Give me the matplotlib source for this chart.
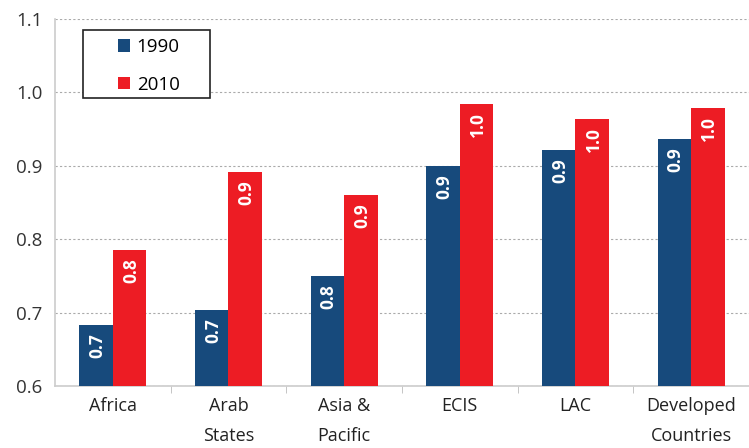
import numpy as np
import matplotlib.pyplot as plt
from matplotlib.patches import Rectangle
from matplotlib.ticker import FixedLocator

categories = ['Africa', 'Arab\nStates', 'Asia &\nPacific', 'ECIS', 'LAC', 'Developed\nCountries']
v1990 = [0.683, 0.704, 0.750, 0.900, 0.922, 0.937]
v2010 = [0.785, 0.892, 0.860, 0.984, 0.964, 0.979]
lab1990 = ['0.7', '0.7', '0.8', '0.9', '0.9', '0.9']
lab2010 = ['0.8', '0.9', '0.9', '1.0', '1.0', '1.0']

blue = '#174a7c'
red = '#ed1c24'
plt.rcParams['font.family'] = ['Open Sans', 'DejaVu Sans']

fig = plt.figure(figsize=(7.49, 4.48), dpi=100)
ax = fig.add_axes([0.0734, 0.1384, 0.9266, 0.8192])

x = np.arange(len(categories))
w = 0.29
b1 = ax.bar(x - w/2, v1990, w, color=blue, label='1990', zorder=3)
b2 = ax.bar(x + w/2, v2010, w, color=red, label='2010', zorder=3)

for bars, labs in ((b1, lab1990), (b2, lab2010)):
    for r, t in zip(bars, labs):
        ax.annotate(t, (r.get_x() + r.get_width()/2, r.get_height()),
                    xytext=(1, -6), textcoords='offset points',
                    rotation=90, ha='center', va='top', color='white',
                    fontsize=12.5, fontweight='bold', zorder=4)

ax.set_xlim(-0.5, len(categories) - 0.5)
ax.set_ylim(0.6, 1.1)
ax.set_yticks([0.6, 0.7, 0.8, 0.9, 1.0, 1.1])
ax.set_yticklabels(['0.6', '0.7', '0.8', '0.9', '1.0', '1.1'])
ax.set_xticks(x)
ax.set_xticklabels(categories, linespacing=1.85)
ax.xaxis.set_minor_locator(FixedLocator(x[:-1] + 0.5))
ax.tick_params(axis='x', which='major', length=0, pad=8, labelsize=13, labelcolor='#222222')
ax.tick_params(axis='x', which='minor', length=5, color='#bbbbbb', direction='out')
ax.tick_params(axis='y', length=0, pad=9, labelsize=13.5, labelcolor='#333333')

ax.yaxis.grid(True, linestyle=(0, (2, 2)), color='#aaaaaa', linewidth=0.8, zorder=0)
for s in ['top', 'right']:
    ax.spines[s].set_visible(False)
ax.spines['left'].set_color('#cccccc')
ax.spines['bottom'].set_color('#cccccc')
ax.spines['left'].set_linewidth(1.2)
ax.spines['bottom'].set_linewidth(1.2)

# legend: entries without frame, box drawn separately to match the wide original box
leg = fig.legend(handles=[b1, b2], loc='upper left', bbox_to_anchor=(0.1575, 0.915),
                 fontsize=13.5, frameon=False,
                 handlelength=0.65, handleheight=0.65, handletextpad=0.35,
                 borderpad=0, labelspacing=1.05, borderaxespad=0)
fig.add_artist(Rectangle((0.1108, 0.781), 0.1696, 0.1518, transform=fig.transFigure,
                         facecolor='white', edgecolor='#222222', linewidth=1.2, zorder=2))
leg.set_zorder(5)

fig.savefig('out.png', dpi=100)
